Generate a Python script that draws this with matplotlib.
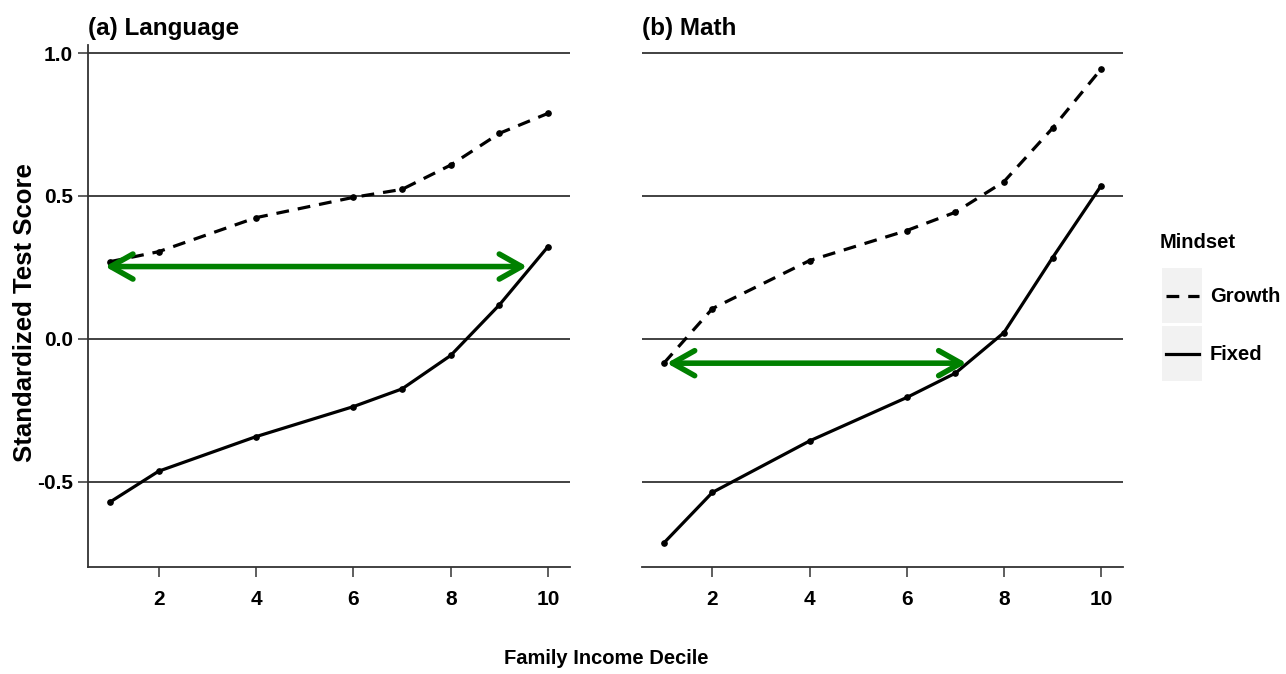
import numpy as np
import matplotlib
matplotlib.use("Agg")
import matplotlib.pyplot as plt
from matplotlib.patches import Rectangle

plt.rcParams['font.family'] = ['Liberation Sans', 'DejaVu Sans']
plt.rcParams['font.weight'] = 'bold'

# данные
deciles = [1, 2, 4, 6, 7, 8, 9, 10]
lang_growth = [0.27, 0.305, 0.424, 0.495, 0.523, 0.608, 0.719, 0.789]
lang_fixed = [-0.571, -0.463, -0.342, -0.237, -0.175, -0.058, 0.119, 0.323]
math_growth = [-0.085, 0.106, 0.274, 0.379, 0.443, 0.55, 0.737, 0.944]
math_fixed = [-0.714, -0.537, -0.357, -0.205, -0.12, 0.022, 0.284, 0.536]

# зелёные стрелки: (x_start, x_end, y)
lang_arrow = (0.9, 9.57, 0.253)
math_arrow = (1.06, 7.23, -0.085)

titles = ['(a) Language', '(b) Math']
y_ticks = [-0.5, 0.0, 0.5, 1.0]
y_ticklabels = ['-0.5', '0.0', '0.5', '1.0']
x_ticks = [2, 4, 6, 8, 10]
legend_labels = ['Growth', 'Fixed']

W, H = 1286, 674
fig = plt.figure(figsize=(W / 100, H / 100), dpi=100)
ax1 = fig.add_axes([88 / W, 1 - 567 / H, 482 / W, 522 / H])
ax2 = fig.add_axes([642 / W, 1 - 567 / H, 481 / W, 522 / H])

panels = [(ax1, lang_growth, lang_fixed, lang_arrow),
          (ax2, math_growth, math_fixed, math_arrow)]
dash = (0, (4, 2.8))

for i, (ax, growth, fixed, arrow) in enumerate(panels):
    ax.set_xlim(0.55, 10.45)
    ax.set_ylim(-0.798, 1.028)
    ax.set_yticks(y_ticks)
    ax.set_xticks(x_ticks)
    ax.yaxis.grid(True, color='#333333', linewidth=1.3)
    ax.set_axisbelow(True)
    for s in ['top', 'right']:
        ax.spines[s].set_visible(False)
    for s in ['bottom', 'left']:
        ax.spines[s].set_color('#333333')
        ax.spines[s].set_linewidth(1.3)
    ax.tick_params(axis='both', length=7.5, width=1.1, color='#333333',
                   labelsize=15, labelcolor='black')
    ax.tick_params(axis='x', pad=9)
    ax.tick_params(axis='y', pad=3.5)
    if i == 0:
        ax.set_yticklabels(y_ticklabels)
    else:
        ax.spines['left'].set_visible(False)
        ax.tick_params(axis='y', left=False, labelleft=False)

    ax.plot(deciles, growth, color='black', linewidth=2.3, linestyle=dash,
            marker='o', markersize=3.8)
    ax.plot(deciles, fixed, color='black', linewidth=2.3, linestyle='-',
            marker='o', markersize=3.8)

    x0, x1, yv = arrow
    ax.annotate('', xy=(x0, yv), xytext=(x1, yv),
                arrowprops=dict(arrowstyle='<->,head_length=0.8,head_width=0.45',
                                color='#008000', linewidth=4, shrinkA=0, shrinkB=0,
                                mutation_scale=20))
    ax.set_title(titles[i], loc='left', fontsize=17.5, fontweight='bold', pad=7)

fig.text(25 / W, 1 - 313 / H, 'Standardized Test Score', rotation=90,
         ha='center', va='center', fontsize=18.5, fontweight='bold')
fig.text(606 / W, 1 - 658 / H, 'Family Income Decile', ha='center', va='center',
         fontsize=14.5, fontweight='bold')

# легенда (в пиксельных координатах)
leg = fig.add_axes([1151 / W, 1 - 400 / H, 135 / W, 180 / H])
leg.set_xlim(1151, 1286)
leg.set_ylim(400, 220)
leg.axis('off')
leg.text(1160, 242, 'Mindset', fontsize=14.5, fontweight='bold', va='center', ha='left')
styles = [dash, '-']
for j, (lab, st) in enumerate(zip(legend_labels, styles)):
    yc = 296 + j * 58
    leg.add_patch(Rectangle((1162, yc - 28), 40, 55, color='#f2f2f2', lw=0))
    leg.plot([1166, 1199], [yc, yc], color='black', linewidth=2.3, linestyle=st)
    leg.text(1210, yc, lab, fontsize=14.5, fontweight='bold', va='center', ha='left')

fig.savefig('out.png', dpi=100)
